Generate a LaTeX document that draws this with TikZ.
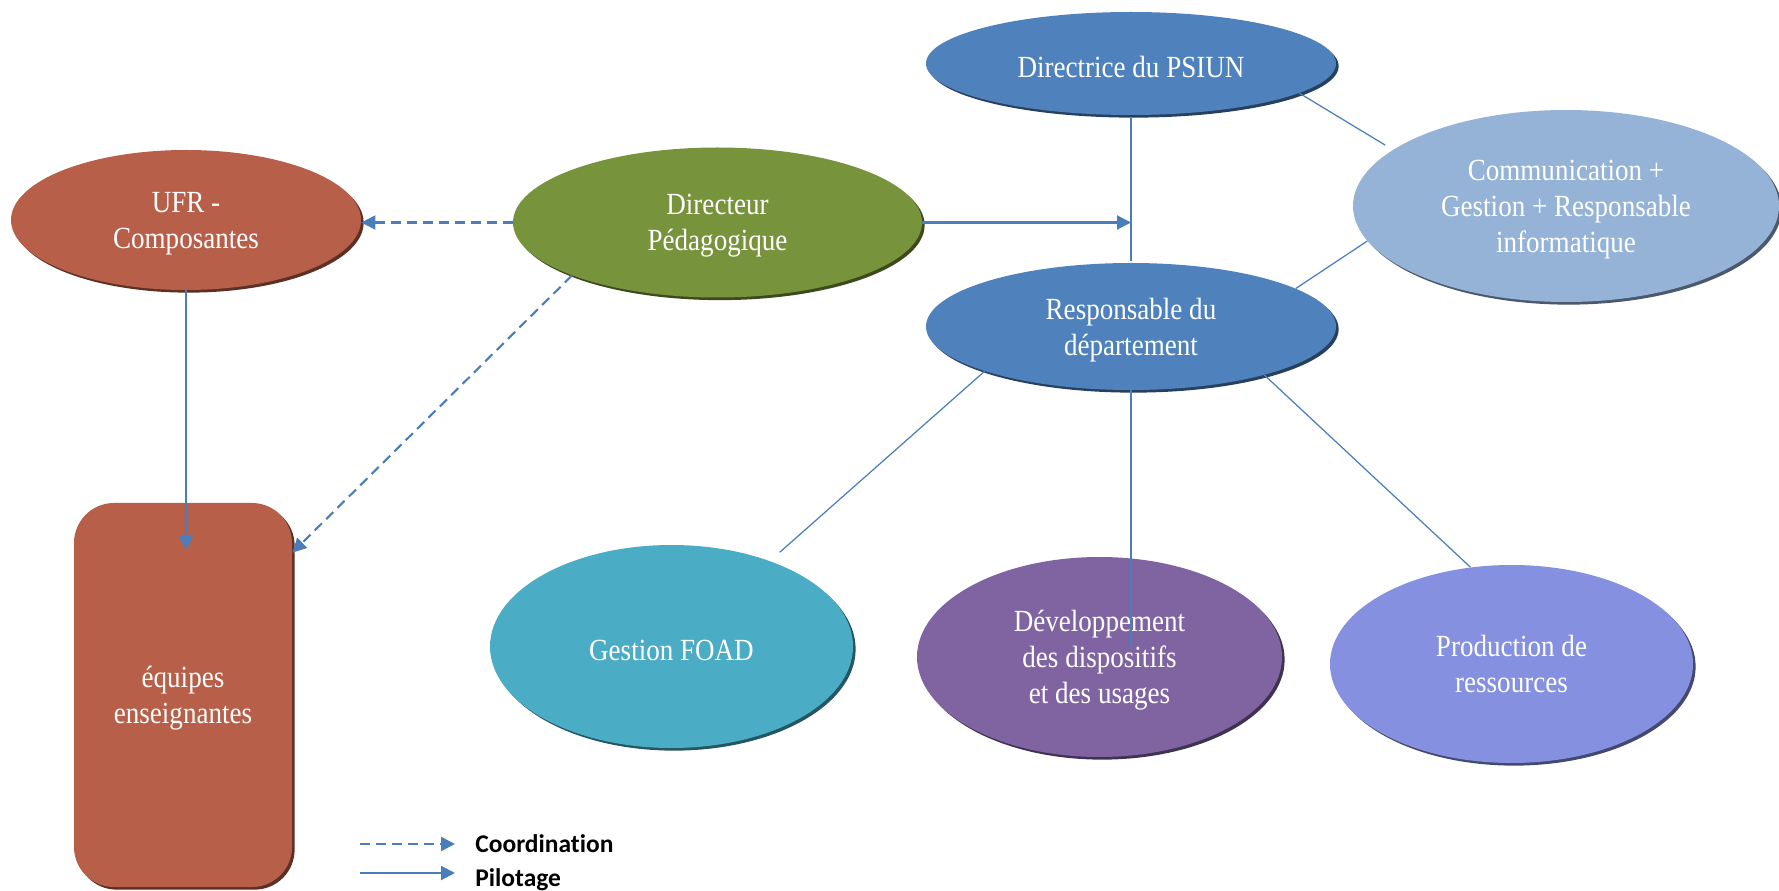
\documentclass[tikz,border=0pt]{standalone}
\usepackage{fontspec}
\usepackage{tikz}
\usetikzlibrary{shapes.geometric,arrows.meta,shadows}
\newfontfamily\boxfont[FakeStretch=0.88]{Liberation Serif}
\newfontfamily\legendfont[Ligatures=CommonOff]{Carlito}

\begin{document}
\begin{tikzpicture}[
	bubble/.style={ellipse, fill=#1, inner sep=0pt, text=white, align=center,
		font=\boxfont\fontsize{17.5}{20.5}\selectfont,
		execute at begin node={\rule{0pt}{0.56cm}},
		general shadow={fill=#1!50!black, shadow xshift=1.5pt, shadow yshift=-1.5pt}},
	lifted/.style={text depth=0pt},
	teambox/.style={rectangle, rounded corners=0.8cm, fill=ufrbrown, inner sep=0pt,
		text=white, align=center, font=\boxfont\fontsize{17.5}{20.5}\selectfont,
		minimum width=4.36cm, minimum height=7.68cm, lifted,
		general shadow={fill=ufrbrown!50!black, shadow xshift=1.5pt, shadow yshift=-1.5pt}},
	pilotarrow/.style={draw=linkblue, line width=1.2pt, -{Triangle[length=0.28cm, width=0.28cm]}},
	coordarrow/.style={pilotarrow, dash pattern=on 0.2cm off 0.12cm},
	link/.style={draw=linkblue, line width=0.7pt},
	legend/.style={anchor=base west, inner sep=0pt, font=\legendfont\bfseries\fontsize{14.5}{17}\selectfont}]
	\definecolor{ufrbrown}{RGB}{183,95,72}
	\definecolor{pedagreen}{RGB}{119,147,60}
	\definecolor{headblue}{RGB}{79,129,189}
	\definecolor{commblue}{RGB}{149,179,215}
	\definecolor{foadteal}{RGB}{75,172,198}
	\definecolor{develviolet}{RGB}{128,100,162}
	\definecolor{prodlilac}{RGB}{133,145,224}
	\definecolor{linkblue}{RGB}{74,126,187}

	\useasboundingbox (0,0) rectangle (35.58,17.8);

	\node[bubble=ufrbrown, lifted, minimum width=7cm, minimum height=2.8cm] (ufr) at (3.72,13.4) {UFR -\\Composantes};
	\node[bubble=pedagreen, lifted, minimum width=8.18cm, minimum height=3cm] (dirpeda) at (14.35,13.35) {Directeur\\Pédagogique};
	\node[bubble=headblue, minimum width=8.2cm, minimum height=2.06cm] (psiun) at (22.62,16.53) {Directrice du PSIUN};
	\node[bubble=headblue, lifted, minimum width=8.2cm, minimum height=2.54cm] (respdep) at (22.62,11.27) {Responsable du\\département};
	\node[bubble=commblue, lifted, minimum width=8.52cm, minimum height=3.84cm] (comm) at (31.32,13.68) {Communication +\\Gestion + Responsable\\informatique};
	\node[bubble=foadteal, minimum width=7.26cm, minimum height=4.06cm] (foad) at (13.43,4.87) {Gestion FOAD};
	\node[bubble=develviolet, lifted, minimum width=7.3cm, minimum height=4cm] (devel) at (21.99,4.66) {Développement\\des dispositifs\\et des usages};
	\node[bubble=prodlilac, lifted, minimum width=7.26cm, minimum height=3.96cm] (prod) at (30.23,4.52) {Production de\\ressources};
	\node[teambox] (equipes) at (3.66,3.9) {équipes\\enseignantes};

	\draw[coordarrow] (dirpeda.west) -- (dirpeda.west -| ufr.east);
	\draw[coordarrow] (dirpeda.200) -- ([yshift=-1cm]equipes.north east);
	\draw[pilotarrow] (ufr.south) -- ([yshift=-0.94cm]ufr.south |- equipes.north);
	\draw[pilotarrow] (dirpeda.east) -- (dirpeda.east -| psiun.south);

	\draw[link, shorten <=0.06cm, shorten >=0.04cm] (psiun.south) -- (respdep.north);
	\draw[link, shorten >=0.18cm] (psiun.350) -- (comm.162);
	\draw[link] (respdep.13) -- (comm.190);
	\draw[link, shorten >=0.26cm] (respdep.197) -- (foad.41);
	\draw[link] (respdep.south) -- ([yshift=0.18cm]respdep.south |- devel.center);
	\draw[link] (respdep.340) -- (prod.113);

	\coordinate (coordstart) at (7.2,0.92);
	\coordinate (coordend) at (9.1,0.92);
	\coordinate (pilotstart) at (7.2,0.34);
	\coordinate (pilotend) at (9.1,0.34);
	\draw[coordarrow] (coordstart) -- (coordend);
	\draw[pilotarrow] (pilotstart) -- (pilotend);
	\node[legend] (coordlabel) at (9.5,0.76) {Coordination};
	\node[legend] (pilotlabel) at (9.5,0.08) {Pilotage};
\end{tikzpicture}
\end{document}
